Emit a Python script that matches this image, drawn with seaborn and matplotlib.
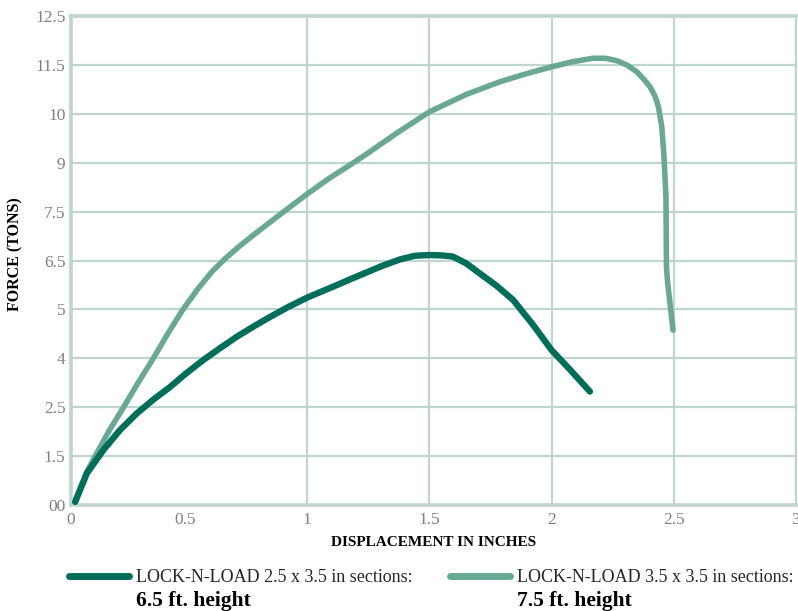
import matplotlib
matplotlib.use("Agg")
import matplotlib.pyplot as plt
import seaborn as sns
import pandas as pd

# --- data ---
x_small = [0.051, 0.099, 0.167, 0.235, 0.303, 0.372, 0.440, 0.508, 0.576, 0.644, 0.712,
           0.780, 0.849, 0.925, 1.0, 1.06, 1.121, 1.18, 1.245, 1.310, 1.381, 1.44, 1.50,
           1.55, 1.596, 1.65, 1.706, 1.774, 1.843, 1.925, 2.0, 2.077, 2.157]
y_small = [0.08, 0.81, 1.41, 1.92, 2.34, 2.70, 3.02, 3.38, 3.71, 4.01, 4.30,
           4.56, 4.81, 5.07, 5.30, 5.46, 5.62, 5.78, 5.95, 6.12, 6.28, 6.37, 6.39,
           6.38, 6.35, 6.18, 5.92, 5.61, 5.24, 4.60, 3.96, 3.45, 2.90]

x_large = [0.051, 0.099, 0.133, 0.190, 0.249, 0.310, 0.371, 0.430, 0.490, 0.550, 0.610,
           0.665, 0.720, 0.780, 0.840, 0.903, 1.0, 1.09, 1.19, 1.245, 1.37, 1.50, 1.653,
           1.789, 1.90, 2.0, 2.085, 2.170, 2.22, 2.266, 2.307, 2.348, 2.375, 2.403, 2.424,
           2.437, 2.451, 2.460, 2.468, 2.470, 2.475, 2.483, 2.497]
y_large = [0.08, 0.85, 1.25, 1.90, 2.50, 3.14, 3.75, 4.38, 4.98, 5.50, 5.96,
           6.30, 6.60, 6.90, 7.19, 7.49, 7.95, 8.35, 8.75, 8.98, 9.52, 10.05, 10.50,
           10.82, 11.03, 11.20, 11.33, 11.42, 11.42, 11.36, 11.25, 11.08, 10.90, 10.69, 10.44,
           10.18, 9.67, 8.90, 7.88, 6.09, 5.67, 5.24, 4.47]

series_labels = ["LOCK-N-LOAD 2.5 x 3.5 in sections:", "LOCK-N-LOAD 3.5 x 3.5 in sections:"]
series_bold = ["6.5 ft. height", "7.5 ft. height"]

x_ticks = [0.034, 0.5, 1, 1.5, 2, 2.5, 3]
x_ticklabels = ["0", "0.5", "1", "1.5", "2", "2.5", "3"]
y_ticks = [0, 1.25, 2.5, 3.75, 5, 6.25, 7.5, 8.75, 10, 11.25, 12.5]
y_ticklabels = ["00", "1.5", "2.5", "4", "5", "6.5", "7.5", "9", "10", "11.5", "12.5"]

x_label = "DISPLACEMENT IN INCHES"
y_label = "FORCE (TONS)"

dark = "#006e58"
light = "#6aa896"
grid_c = "#bfd6cc"

sns.set_theme(style="white")
plt.rcParams["font.family"] = ["Liberation Serif", "DejaVu Serif"]

df_small = pd.DataFrame({"x": x_small, "y": y_small})
df_large = pd.DataFrame({"x": x_large, "y": y_large})

fig = plt.figure(figsize=(7.98, 6.11), dpi=100)
ax = fig.add_axes([71/798, 1 - 505/611, (796 - 71)/798, (505 - 16)/611])

sns.lineplot(data=df_large, x="x", y="y", ax=ax, color=light, lw=4.0, sort=False,
             estimator=None, label=series_labels[1], solid_capstyle="round",
             solid_joinstyle="round", zorder=3)
sns.lineplot(data=df_small, x="x", y="y", ax=ax, color=dark, lw=4.6, sort=False,
             estimator=None, label=series_labels[0], solid_capstyle="round",
             solid_joinstyle="round", zorder=4)

ax.set_xlim(0.034, 3)
ax.set_ylim(0, 12.5)
ax.set_xticks(x_ticks)
ax.set_xticklabels(x_ticklabels)
ax.set_yticks(y_ticks)
ax.set_yticklabels(y_ticklabels)
ax.tick_params(axis="both", length=0, labelsize=12.5, labelcolor="#808080")
ax.tick_params(axis="x", pad=5)
ax.tick_params(axis="y", pad=4)
ax.grid(True, color=grid_c, lw=1.6, zorder=0)
ax.set_axisbelow(True)
xgl = ax.xaxis.get_gridlines()
xgl[0].set_visible(False)
xgl[1].set_visible(False)
for side in ["top", "left", "bottom"]:
    ax.spines[side].set_visible(True)
    ax.spines[side].set_color(grid_c)
    ax.spines[side].set_linewidth(2.6)
ax.spines["right"].set_visible(True)
ax.spines["right"].set_color(grid_c)
ax.spines["right"].set_linewidth(1.6)

ax.set_xlabel(x_label, fontsize=11, fontweight="bold", color="black", labelpad=6)
ax.set_ylabel(y_label, fontsize=11.5, fontweight="bold", color="black")
ax.yaxis.set_label_coords(-0.066, 0.514)

handles, labels = ax.get_legend_handles_labels()
order = [1, 0]
ax.legend([handles[i] for i in order], [labels[i] for i in order],
          loc="upper left", bbox_to_anchor=(69/798, 1 - 569/611),
          bbox_transform=fig.transFigure, ncol=2, frameon=False,
          fontsize=13, handlelength=3.3, handletextpad=0.4, columnspacing=2.1,
          borderaxespad=0, borderpad=0)
leg = ax.get_legend()
for h in leg.get_lines():
    h.set_linewidth(5)
    h.set_solid_capstyle("round")

fig.canvas.draw()
renderer = fig.canvas.get_renderer()
inv = fig.transFigure.inverted()
for txt, bold in zip(leg.get_texts(), series_bold):
    bb = txt.get_window_extent(renderer)
    x0, y0 = inv.transform((bb.x0, bb.y0))
    fig.text(x0, y0 - 5/611, bold, fontsize=15.5, fontweight="bold", ha="left", va="top",
             color="black")

fig.savefig("out.png", dpi=100)
